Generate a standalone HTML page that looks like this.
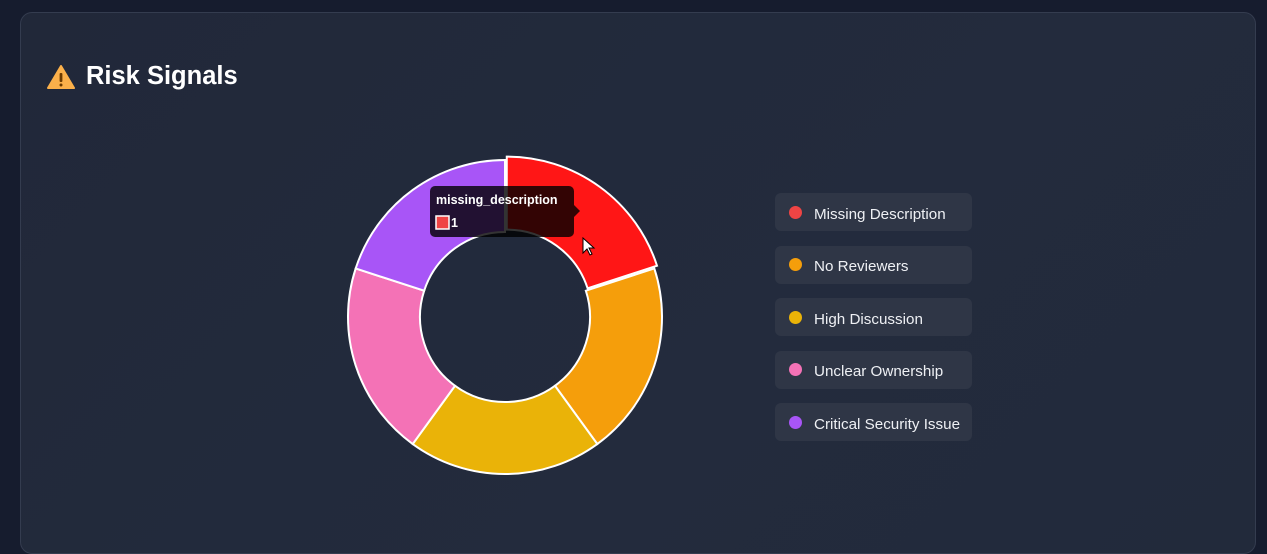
<!DOCTYPE html>
<html><head><meta charset="utf-8"><style>
html,body{margin:0;padding:0;width:1267px;height:536px;overflow:hidden;background:#161c2e;font-family:"Liberation Sans",sans-serif}
.card{position:absolute;left:20px;top:12px;width:1234px;height:540px;border:1px solid #343c4f;border-radius:12px;background:linear-gradient(135deg,#212839,#232b3d 60%,#222a3b)}
.title{position:absolute;left:47px;top:62px;color:#fff;font-weight:bold;font-size:25.5px;display:flex;align-items:center;gap:11px}
.leg{position:absolute;left:775px;width:197px;height:38px;border-radius:6px;background:#2f3646;color:#eef0f4;font-size:15.2px;display:flex;align-items:center;padding-top:4px;box-sizing:border-box}
.leg i{display:inline-block;width:13px;height:13px;border-radius:50%;margin:-4px 12px 0 14px}
</style></head><body>
<div class="card"></div>
<div class="title">
<svg width="28" height="26" viewBox="0 0 28 26"><path d="M14 2 L27 24 L1 24 Z" fill="#fbb04a" stroke="#fbb04a" stroke-linejoin="round" stroke-width="2"/><rect x="12.6" y="9" width="2.8" height="9" rx="1" fill="#6b3a00"/><circle cx="14" cy="21" r="1.5" fill="#6b3a00"/></svg>
<span>Risk Signals</span></div>
<svg id="chart" width="1267" height="536" style="position:absolute;left:0;top:0"></svg>
<div id="legend"></div>
<script>
const labels=["Missing Description","No Reviewers","High Discussion","Unclear Ownership","Critical Security Issue"];
const keys=["missing_description","no_reviewers","high_discussion","unclear_ownership","critical_security_issue"];
const values=[1,1,1,1,1];
const colors=["#ff1616","#f59e0b","#eab308","#f472b6","#a855f7"];
const dotColors=["#ef4444","#f59e0b","#eab308","#f472b6","#a855f7"];
const hovered=0;
const cx=505,cy=317,R=157,r=85;
const ns="http://www.w3.org/2000/svg";
const svg=document.getElementById('chart');
const total=values.reduce((a,b)=>a+b,0);
let a0=-Math.PI/2;
values.forEach((v,i)=>{
  const a1=a0+v/total*2*Math.PI;
  const off=i===hovered?3:0, RR=i===hovered?R+1:R;
  const mid=(a0+a1)/2, ox=cx+off*Math.cos(mid), oy=cy+off*Math.sin(mid);
  const p=(rad,a)=>[ox+rad*Math.cos(a),oy+rad*Math.sin(a)];
  const [x1,y1]=p(RR,a0),[x2,y2]=p(RR,a1),[x3,y3]=p(r,a1),[x4,y4]=p(r,a0);
  const large=(a1-a0)>Math.PI?1:0;
  const path=document.createElementNS(ns,'path');
  path.setAttribute('d',`M${x1},${y1}A${RR},${RR} 0 ${large} 1 ${x2},${y2}L${x3},${y3}A${r},${r} 0 ${large} 0 ${x4},${y4}Z`);
  path.setAttribute('fill',colors[i]);path.setAttribute('stroke','#fff');path.setAttribute('stroke-width','2');
  
  
  svg.appendChild(path);
  a0=a1;
});
const g=document.createElementNS(ns,'g');


g.innerHTML=`<rect x="430" y="186" width="144" height="51" rx="5" fill="rgba(0,0,0,0.8)"/><path d="M574 205 L580 211 L574 217Z" fill="rgba(0,0,0,0.8)"/>
<text x="436" y="204" fill="#fff" font-weight="bold" font-size="12.5" font-family="Liberation Sans">${keys[hovered]}</text>
<rect x="436" y="216" width="13" height="13" fill="#ef4444" stroke="#fff" stroke-width="1.5"/>
<text x="451" y="227" fill="#fff" font-size="12.5" font-weight="bold" font-family="Liberation Sans">${values[hovered]}</text>
<path d="M583 238 L583 253 L587 249 L590 255 L592 254 L589 248 L594 248Z" fill="#fff" stroke="#000" stroke-width="1"/>`;
svg.appendChild(g);
const leg=document.getElementById('legend');
labels.forEach((l,i)=>{
  const d=document.createElement('div');
  d.className='leg';d.style.top=(193+i*52.5)+'px';
  
  
  d.innerHTML=`<i style="background:${dotColors[i]}"></i>${l}`;
  leg.appendChild(d);
});
</script>
</body></html>
